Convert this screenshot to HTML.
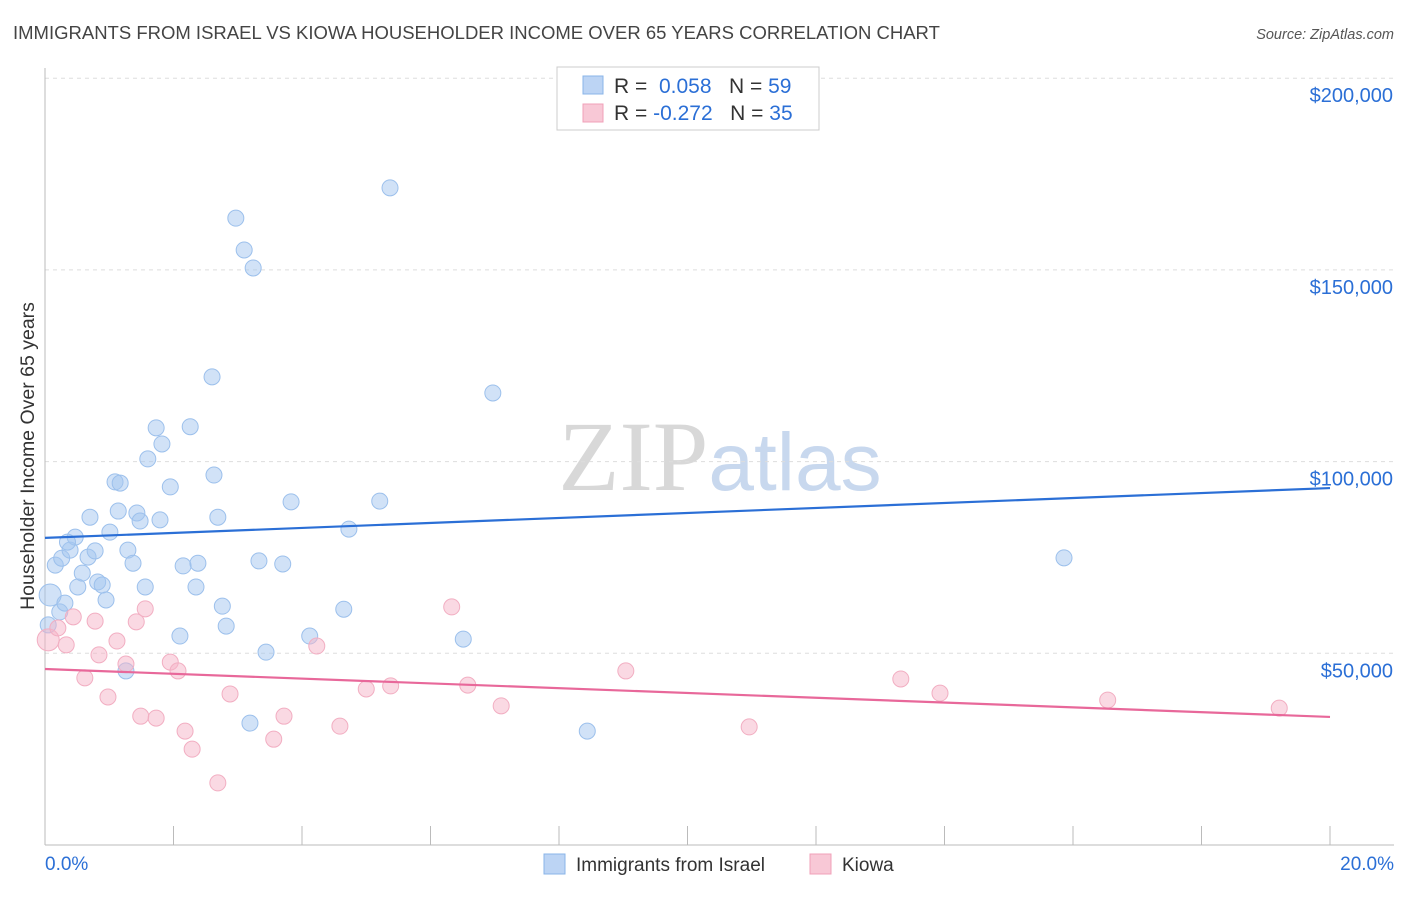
<!DOCTYPE html>
<html><head><meta charset="utf-8"><style>
body{margin:0;background:#fff;font-family:"Liberation Sans",sans-serif}
svg text{font-family:"Liberation Sans",sans-serif}
</style></head><body>
<svg id="chart" width="1406" height="892" xmlns="http://www.w3.org/2000/svg">
<text x="13" y="39" font-size="18.5" fill="#444">IMMIGRANTS FROM ISRAEL VS KIOWA HOUSEHOLDER INCOME OVER 65 YEARS CORRELATION CHART</text>
<text x="1394" y="39" font-size="14.5" fill="#555" text-anchor="end" font-style="italic">Source: ZipAtlas.com</text>
<text transform="translate(34,456) rotate(-90)" font-size="19.5" fill="#333" text-anchor="middle">Householder Income Over 65 years</text>
<text x="720" y="490" font-size="100" fill="#ddd" text-anchor="middle"><tspan font-family="Liberation Serif" fill="#d8d8d8">ZIP</tspan><tspan fill="#c8d8ee" font-size="82">atlas</tspan></text>
<g id="grid"></g><g id="axes"></g><g id="marks"></g>
<g>
<rect x="557" y="67" width="262" height="63" fill="#fff" stroke="#ccc"/>
<rect x="583" y="76" width="20" height="18" fill="#bcd4f4" stroke="#8ab4e8"/>
<rect x="583" y="104" width="20" height="18" fill="#f8c8d6" stroke="#f0a0b8"/>
<text x="614" y="93" font-size="21" fill="#333">R = <tspan fill="#2b6fd6">&#160;0.058</tspan><tspan fill="#333">&#160;&#160;&#160;N = </tspan><tspan fill="#2b6fd6">59</tspan></text>
<text x="614" y="120" font-size="21" fill="#333">R = <tspan fill="#2b6fd6">-0.272</tspan><tspan fill="#333">&#160;&#160;&#160;N = </tspan><tspan fill="#2b6fd6">35</tspan></text>
</g>
<g>
<rect x="544" y="854" width="21" height="20" fill="#bcd4f4" stroke="#8ab4e8"/>
<text x="576" y="871" font-size="19" fill="#333">Immigrants from Israel</text>
<rect x="810" y="854" width="21" height="20" fill="#f8c8d6" stroke="#f0a0b8"/>
<text x="842" y="871" font-size="19" fill="#333">Kiowa</text>
</g>
</svg>
<script>
const blueX=[0.08,0.16,0.23,0.31,0.26,0.39,0.47,0.51,0.58,0.67,0.70,0.78,0.82,0.89,0.95,1.01,1.09,1.17,1.14,1.29,1.37,1.43,1.48,1.56,1.26,1.60,1.73,1.82,1.79,1.95,2.10,2.15,2.26,2.35,2.38,2.60,2.63,2.69,2.76,2.82,2.97,3.10,3.24,3.19,3.33,3.44,3.70,3.83,4.12,4.65,4.73,5.21,5.37,6.51,6.97,8.44,15.86,0.05,0.35];
const blueY=[65.2,73.0,60.8,63.1,74.8,76.9,80.3,67.3,70.9,75.1,85.5,76.7,68.6,67.8,63.9,81.6,94.7,94.4,87.1,76.9,73.5,86.6,84.5,67.3,45.4,100.7,108.8,104.6,84.8,93.4,54.5,72.8,109.1,67.3,73.5,122.1,96.5,85.5,62.3,57.1,163.5,155.2,150.5,31.8,74.1,50.3,73.3,89.5,54.5,61.5,82.4,89.7,171.4,53.7,117.9,29.7,74.9,57.4,79.0];
const pinkX=[0.05,0.2,0.33,0.44,0.62,0.78,0.84,0.98,1.12,1.26,1.42,1.49,1.56,1.73,1.95,2.07,2.18,2.29,2.69,2.88,3.56,3.72,4.23,4.59,5.0,5.38,6.33,6.58,7.10,9.04,10.96,13.32,13.93,16.54,19.21];
const pinkY=[53.5,56.6,52.2,59.5,43.6,58.4,49.6,38.6,53.2,47.2,58.2,33.6,61.6,33.1,47.7,45.4,29.7,25.0,16.2,39.4,27.6,33.6,51.9,31.0,40.7,41.5,62.1,41.7,36.3,45.4,30.8,43.3,39.6,37.8,35.7];
const blueTrend=[80.1,93.1];
const pinkTrend=[45.9,33.4];
const yTicks=[50,100,150,200];
const yTickLabels=["$50,000","$100,000","$150,000","$200,000"];
const xTicks=[0,2,4,6,8,10,12,14,16,18,20];
const NS="http://www.w3.org/2000/svg";
const xs=v=>45+v*64.25;
const ys=v=>845-v*3.834;
function mk(t,a,p){const e=document.createElementNS(NS,t);for(const k in a)e.setAttribute(k,a[k]);p.appendChild(e);return e;}
const grid=document.getElementById('grid'),axes=document.getElementById('axes'),marks=document.getElementById('marks');
yTicks.forEach((v,i)=>{
 const l=mk('line',{x1:45,x2:1394,y1:ys(v),y2:ys(v),stroke:'#ddd','stroke-dasharray':'4,4'},grid);
 
 
 const t=mk('text',{x:1393,y:ys(v)+24,'font-size':20,fill:'#2b6fd6','text-anchor':'end'},axes);
 t.textContent=yTickLabels[i];
 
 
});
mk('line',{x1:45,x2:45,y1:68,y2:845,stroke:'#bbb'},axes);
mk('line',{x1:45,x2:1394,y1:845,y2:845,stroke:'#bbb'},axes);
xTicks.forEach(v=>{
 const l=mk('line',{x1:xs(v),x2:xs(v),y1:826,y2:845,stroke:'#bbb'},axes);
 
 
});
const x0=mk('text',{x:45,y:870,'font-size':19,fill:'#2b6fd6'},axes);x0.textContent='0.0%';


const x1=mk('text',{x:1394,y:870,'font-size':19,fill:'#2b6fd6','text-anchor':'end'},axes);x1.textContent='20.0%';


blueX.forEach((x,i)=>{
 const c=mk('circle',{cx:xs(x),cy:ys(blueY[i]),r:i==0?11:8,fill:'rgba(164,198,240,0.5)',stroke:'#9cc0ec','stroke-width':1},marks);
 
 
});
pinkX.forEach((x,i)=>{
 const c=mk('circle',{cx:xs(x),cy:ys(pinkY[i]),r:i==0?11:8,fill:'rgba(245,180,200,0.5)',stroke:'#f2aec2','stroke-width':1},marks);
 
 
});
const bl=mk('line',{x1:xs(0),x2:xs(20),y1:ys(blueTrend[0]),y2:ys(blueTrend[1]),stroke:'#2b6fd6','stroke-width':2.2},marks);


const pl=mk('line',{x1:xs(0),x2:xs(20),y1:ys(pinkTrend[0]),y2:ys(pinkTrend[1]),stroke:'#e8689a','stroke-width':2.2},marks);


</script>
</body></html>
